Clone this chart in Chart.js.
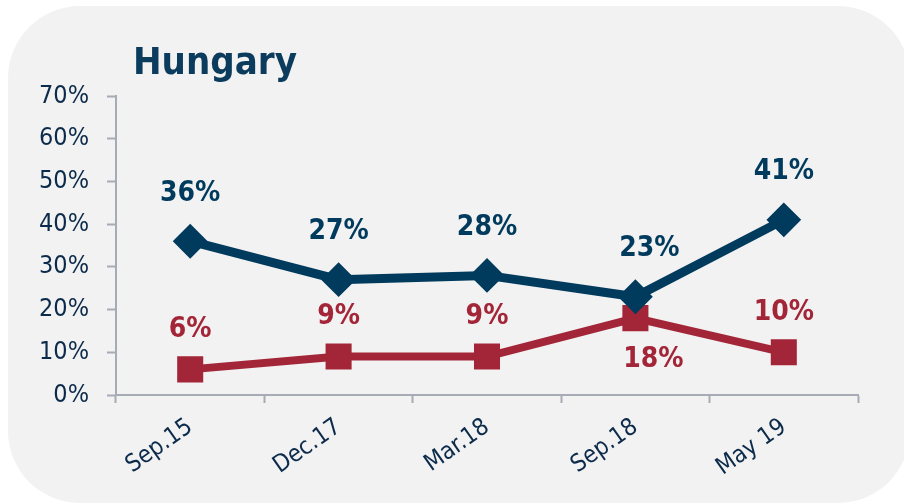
<!DOCTYPE html>
<html>
<head>
<meta charset="utf-8">
<script src="https://cdn.jsdelivr.net/npm/chart.js@4.4.0/dist/chart.umd.min.js"></script>
<style>
  html, body { margin: 0; padding: 0; background: #fff; }
  #wrap { position: relative; width: 904px; height: 504px; overflow: hidden; }
  #panel { position: absolute; left: 8px; top: 6px; width: 902px; height: 497px; border-radius: 72px; background: #f2f2f2; }
  #chart { position: absolute; left: 0; top: 0; }
</style>
</head>
<body>
<div id="wrap">
  <div id="panel"></div>
  <canvas id="chart" width="904" height="504"></canvas>
</div>
<script>
// survey waves and the two series (percent)
var categories = ['Sep.15', 'Dec.17', 'Mar.18', 'Sep.18', 'May 19'];
var blueValues = [36, 27, 28, 23, 41];
var redValues = [6, 9, 9, 18, 10];
var yTickValues = [0, 10, 20, 30, 40, 50, 60, 70];

// where each value label sits relative to its point
var blueLabelSide = ['above', 'above', 'above', 'above', 'above'];
var redLabelSide = ['above', 'above', 'above', 'below', 'above'];
var blueLabelShift = [0, 0, 0, 14, 0];
var redLabelShift = [0, 0, 0, 18, 0];

var FONT = "'DejaVu Sans Condensed', 'DejaVu Sans', sans-serif";
var BLUE = '#003a5d';
var RED = '#a32638';
var NAVY = '#0c2b4b';
var AXIS = '#a6abb6';

var titlePlugin = {
  id: 'panelTitle',
  afterDraw: function(chart) {
    var ctx = chart.ctx;
    ctx.save();
    ctx.font = 'bold 38px ' + FONT;
    ctx.fillStyle = '#0b3c5d';
    ctx.textAlign = 'left';
    ctx.textBaseline = 'alphabetic';
    ctx.fillText('Hungary', 133, 74);
    ctx.restore();
  }
};

var valueLabels = {
  id: 'valueLabels',
  afterDatasetsDraw: function(chart) {
    var ctx = chart.ctx;
    chart.data.datasets.forEach(function(ds, i) {
      var meta = chart.getDatasetMeta(i);
      meta.data.forEach(function(pt, j) {
        var dy = ds.labelSide[j] === 'below' ? ds.labelGapBelow : -ds.labelGap;
        ctx.save();
        ctx.font = 'bold 28px ' + FONT;
        ctx.fillStyle = ds.borderColor;
        ctx.textAlign = 'center';
        ctx.textBaseline = 'middle';
        ctx.fillText(ds.data[j] + '%', pt.x + ds.labelShift[j], pt.y + dy);
        ctx.restore();
      });
    });
  }
};

var ctx = document.getElementById('chart').getContext('2d');
var chart = new Chart(ctx, {
  type: 'line',
  data: {
    labels: categories,
    datasets: [{
      data: blueValues,
      borderColor: BLUE,
      backgroundColor: BLUE,
      borderWidth: 9,
      pointStyle: 'rectRot',
      pointRadius: 16,
      pointBorderWidth: 2,
      pointBackgroundColor: BLUE,
      pointBorderColor: BLUE,
      tension: 0,
      clip: false,
      labelSide: blueLabelSide,
      labelShift: blueLabelShift,
      labelGap: 48,
      labelGapBelow: 42
    }, {
      data: redValues,
      borderColor: RED,
      backgroundColor: RED,
      borderWidth: 8,
      pointStyle: 'rect',
      pointRadius: 17,
      pointBorderWidth: 2,
      pointBackgroundColor: RED,
      pointBorderColor: RED,
      tension: 0,
      clip: false,
      labelSide: redLabelSide,
      labelShift: redLabelShift,
      labelGap: 40,
      labelGapBelow: 42
    }]
  },
  options: {
    responsive: false,
    animation: false,
    layout: { padding: { top: 96, right: 46, left: 0, bottom: 0 } },
    plugins: {
      legend: { display: false },
      tooltip: { enabled: false },
      title: { display: false }
    },
    scales: {
      x: {
        offset: true,
        grid: { offset: true, drawOnChartArea: false, drawTicks: true, tickLength: 8, tickWidth: 2, tickColor: AXIS },
        border: { color: AXIS, width: 2 },
        ticks: { color: NAVY, font: { family: FONT, size: 24 }, minRotation: 35, maxRotation: 35, padding: 10 },
        afterFit: function(s) { s.height = 109; }
      },
      y: {
        min: 0,
        max: 70,
        afterBuildTicks: function(s) { s.ticks = yTickValues.map(function(v) { return { value: v }; }); },
        ticks: { color: NAVY, font: { family: FONT, size: 25 }, padding: 18, callback: function(v) { return v + '%'; } },
        grid: { drawOnChartArea: false, drawTicks: true, tickLength: 9, tickWidth: 2, tickColor: AXIS },
        border: { color: AXIS, width: 2 },
        afterFit: function(s) { s.width = 116; }
      }
    }
  },
  plugins: [titlePlugin, valueLabels]
});
</script>
</body>
</html>
